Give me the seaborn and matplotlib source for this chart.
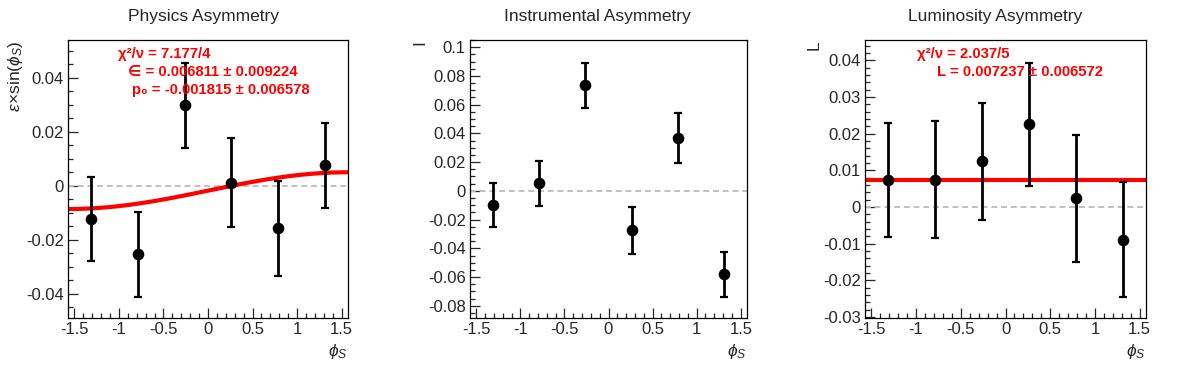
import numpy as np
import pandas as pd
import matplotlib
matplotlib.use("Agg")
import matplotlib.pyplot as plt
import seaborn as sns
from matplotlib.ticker import MultipleLocator, FuncFormatter

## Dados
phi_bins = [-1.309, -0.785, -0.262, 0.262, 0.785, 1.309]

phys_vals = [-0.0123, -0.0254, 0.0298, 0.0011, -0.0158, 0.0076]
phys_errs = [0.0154, 0.0158, 0.0158, 0.0165, 0.0175, 0.0157]

instr_vals = [-0.0098, 0.0053, 0.0736, -0.0274, 0.0367, -0.0581]
instr_errs = [0.0154, 0.0156, 0.0156, 0.0163, 0.0172, 0.0157]

lumi_vals = [0.0074, 0.0074, 0.0124, 0.0225, 0.0023, -0.0089]
lumi_errs = [0.0155, 0.0160, 0.0160, 0.0167, 0.0174, 0.0157]

# parametros dos ajustes
fit_eps = 0.006811
fit_p0 = -0.001815
fit_L = 0.007237

titles = ["Physics Asymmetry", "Instrumental Asymmetry", "Luminosity Asymmetry"]
ylabels = [r"$\epsilon\!\times\!\mathrm{sin}(\phi_{S})$", "I", "L"]
fit_texts = [
    [(r"χ²/ν = 7.177/4", 118, 58), ("∈ = 0.006811 ± 0.009224", 128, 76), ("p₀ = -0.001815 ± 0.006578", 132, 94)],
    [],
    [(r"χ²/ν = 2.037/5", 917, 58), ("L = 0.007237 ± 0.006572", 937, 76)],
]

## Estilo
sns.set_theme(style="ticks")
plt.rcParams['font.family'] = ['Liberation Sans', 'DejaVu Sans']
plt.rcParams['mathtext.fontset'] = 'custom'
plt.rcParams['mathtext.rm'] = 'Liberation Sans'
plt.rcParams['mathtext.it'] = 'Liberation Sans:italic'
plt.rcParams['mathtext.bf'] = 'Liberation Sans:bold'
plt.rcParams['axes.unicode_minus'] = False

W, H = 1196, 372
fig = plt.figure(figsize=(W / 100, H / 100), dpi=100)

frames = [(68, 348), (470, 747), (865, 1146)]
top_px, bot_px = 40, 318
ylims = [(-0.049, 0.054), (-0.0885, 0.105), (-0.0303, 0.0455)]
ymajor = [0.02, 0.02, 0.01]
yminor = [0.005, 0.005, 0.002]
title_x = [204, 597, 995]

data = [(phys_vals, phys_errs), (instr_vals, instr_errs), (lumi_vals, lumi_errs)]
fmt = FuncFormatter(lambda v, p: '%g' % round(v, 6))

for i in range(3):
    l, r = frames[i]
    ax = fig.add_axes([l / W, 1 - bot_px / H, (r - l) / W, (bot_px - top_px) / H])
    vals, errs = data[i]
    df = pd.DataFrame({'phi': phi_bins, 'val': vals, 'err': errs})

    ax.axhline(0, color='#c0c0c0', lw=1.4, ls=(0, (3, 2)), zorder=1)

    # curvas de ajuste
    if i == 0:
        xs = np.linspace(-np.pi / 2, np.pi / 2, 200)
        fit_df = pd.DataFrame({'phi': xs, 'fit': fit_p0 + fit_eps * np.sin(xs)})
        sns.lineplot(data=fit_df, x='phi', y='fit', color='red', lw=3, ax=ax, zorder=2)
    if i == 2:
        ax.axhline(fit_L, color='red', lw=3, zorder=2)

    ax.errorbar(df['phi'], df['val'], yerr=df['err'], fmt='none', ecolor='black',
                elinewidth=2, capsize=3, capthick=1.6, zorder=3)
    sns.scatterplot(data=df, x='phi', y='val', color='black', s=70, edgecolor='black',
                    linewidth=0, ax=ax, zorder=4)

    ax.set_xlim(-np.pi / 2, np.pi / 2)
    ax.set_ylim(*ylims[i])
    ax.xaxis.set_major_locator(MultipleLocator(0.5))
    ax.xaxis.set_minor_locator(MultipleLocator(0.1))
    ax.yaxis.set_major_locator(MultipleLocator(ymajor[i]))
    ax.yaxis.set_minor_locator(MultipleLocator(yminor[i]))
    ax.xaxis.set_major_formatter(fmt)
    ax.yaxis.set_major_formatter(fmt)
    ax.tick_params(which='both', direction='in', top=False, right=False, labelsize=12, width=0.9)
    ax.tick_params(which='major', length=7)
    ax.tick_params(which='minor', length=3.5)
    ax.tick_params(axis='x', pad=3)
    ax.tick_params(axis='y', pad=3)
    for s in ax.spines.values():
        s.set_linewidth(0.9)
        s.set_color('black')

    ax.set_xlabel(r"$\phi_{S}$", fontsize=12.5, loc='right')
    ax.xaxis.set_label_coords(1.0, -0.085)
    ax.xaxis.label.set_va('top')
    ax.set_ylabel(ylabels[i], fontsize=12.5, loc='top')
    ax.yaxis.set_label_coords(-0.155, 1.0)

    fig.text(title_x[i] / W, 1 - 21 / H, titles[i], ha='center', va='baseline', fontsize=12.5)

    for txt, x, y in fit_texts[i]:
        fig.text(x / W, 1 - y / H, txt, color='red', fontweight='bold', fontsize=10.7,
                 ha='left', va='baseline')

fig.savefig('out.png', dpi=100)
